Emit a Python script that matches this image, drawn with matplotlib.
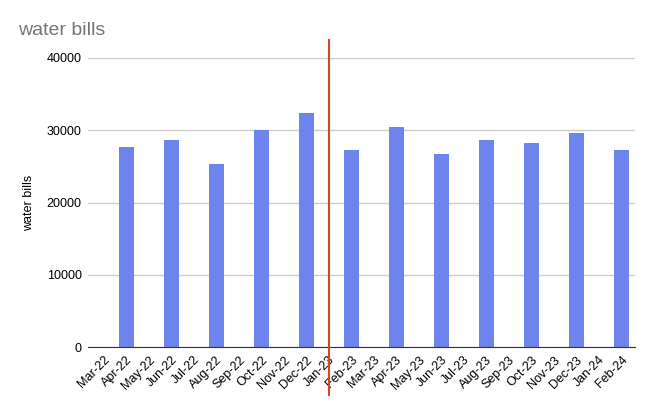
import matplotlib.pyplot as plt

plt.rcParams['font.family'] = ['Liberation Sans', 'DejaVu Sans']

months = ['Mar-22', 'Apr-22', 'May-22', 'Jun-22', 'Jul-22', 'Aug-22', 'Sep-22',
          'Oct-22', 'Nov-22', 'Dec-22', 'Jan-23', 'Feb-23', 'Mar-23', 'Apr-23',
          'May-23', 'Jun-23', 'Jul-23', 'Aug-23', 'Sep-23', 'Oct-23', 'Nov-23',
          'Dec-23', 'Jan-24', 'Feb-24']
bill_months = ['Apr-22', 'Jun-22', 'Aug-22', 'Oct-22', 'Dec-22', 'Feb-23',
               'Apr-23', 'Jun-23', 'Aug-23', 'Oct-23', 'Dec-23', 'Feb-24']
bills = [27700, 28650, 25350, 30050, 32400, 27300,
         30450, 26700, 28650, 28250, 29650, 27300]
marker_month = 'Jan-23'

fig = plt.figure(figsize=(6.54, 4.05), dpi=100)
ax = fig.add_axes([0.1346, 0.1432, 0.8364, 0.7136])

pos = [months.index(m) for m in bill_months]
ax.bar(pos, bills, width=0.67, color='#6d84ec', zorder=2)

ax.set_xlim(-0.71, len(months) - 1 + 0.62)
ax.set_ylim(0, 40000)
ax.set_yticks(range(0, 40001, 10000))
ax.yaxis.grid(True, color='#cccccc', linewidth=1, zorder=0)
ax.tick_params(axis='y', length=0, pad=4.5, labelsize=9)
ax.set_xticks(range(len(months)))
ax.set_xticklabels(months, rotation=45, ha='right', rotation_mode='anchor', fontsize=9)
ax.tick_params(axis='x', length=0, pad=5)

for s in ['top', 'right', 'left']:
    ax.spines[s].set_visible(False)
ax.spines['bottom'].set_color('#333333')
ax.spines['bottom'].set_zorder(3)

ax.axvline(months.index(marker_month), ymin=-0.166, ymax=1.062, color='#cf4a22',
           linewidth=1.5, clip_on=False, zorder=4)

ax.set_ylabel('water bills', fontsize=9)
ax.yaxis.set_label_coords(-0.097, 0.5)

fig.text(0.028, 0.925, 'water bills', fontsize=14, color='#757575', va='center')

fig.savefig('out.png', dpi=100)
